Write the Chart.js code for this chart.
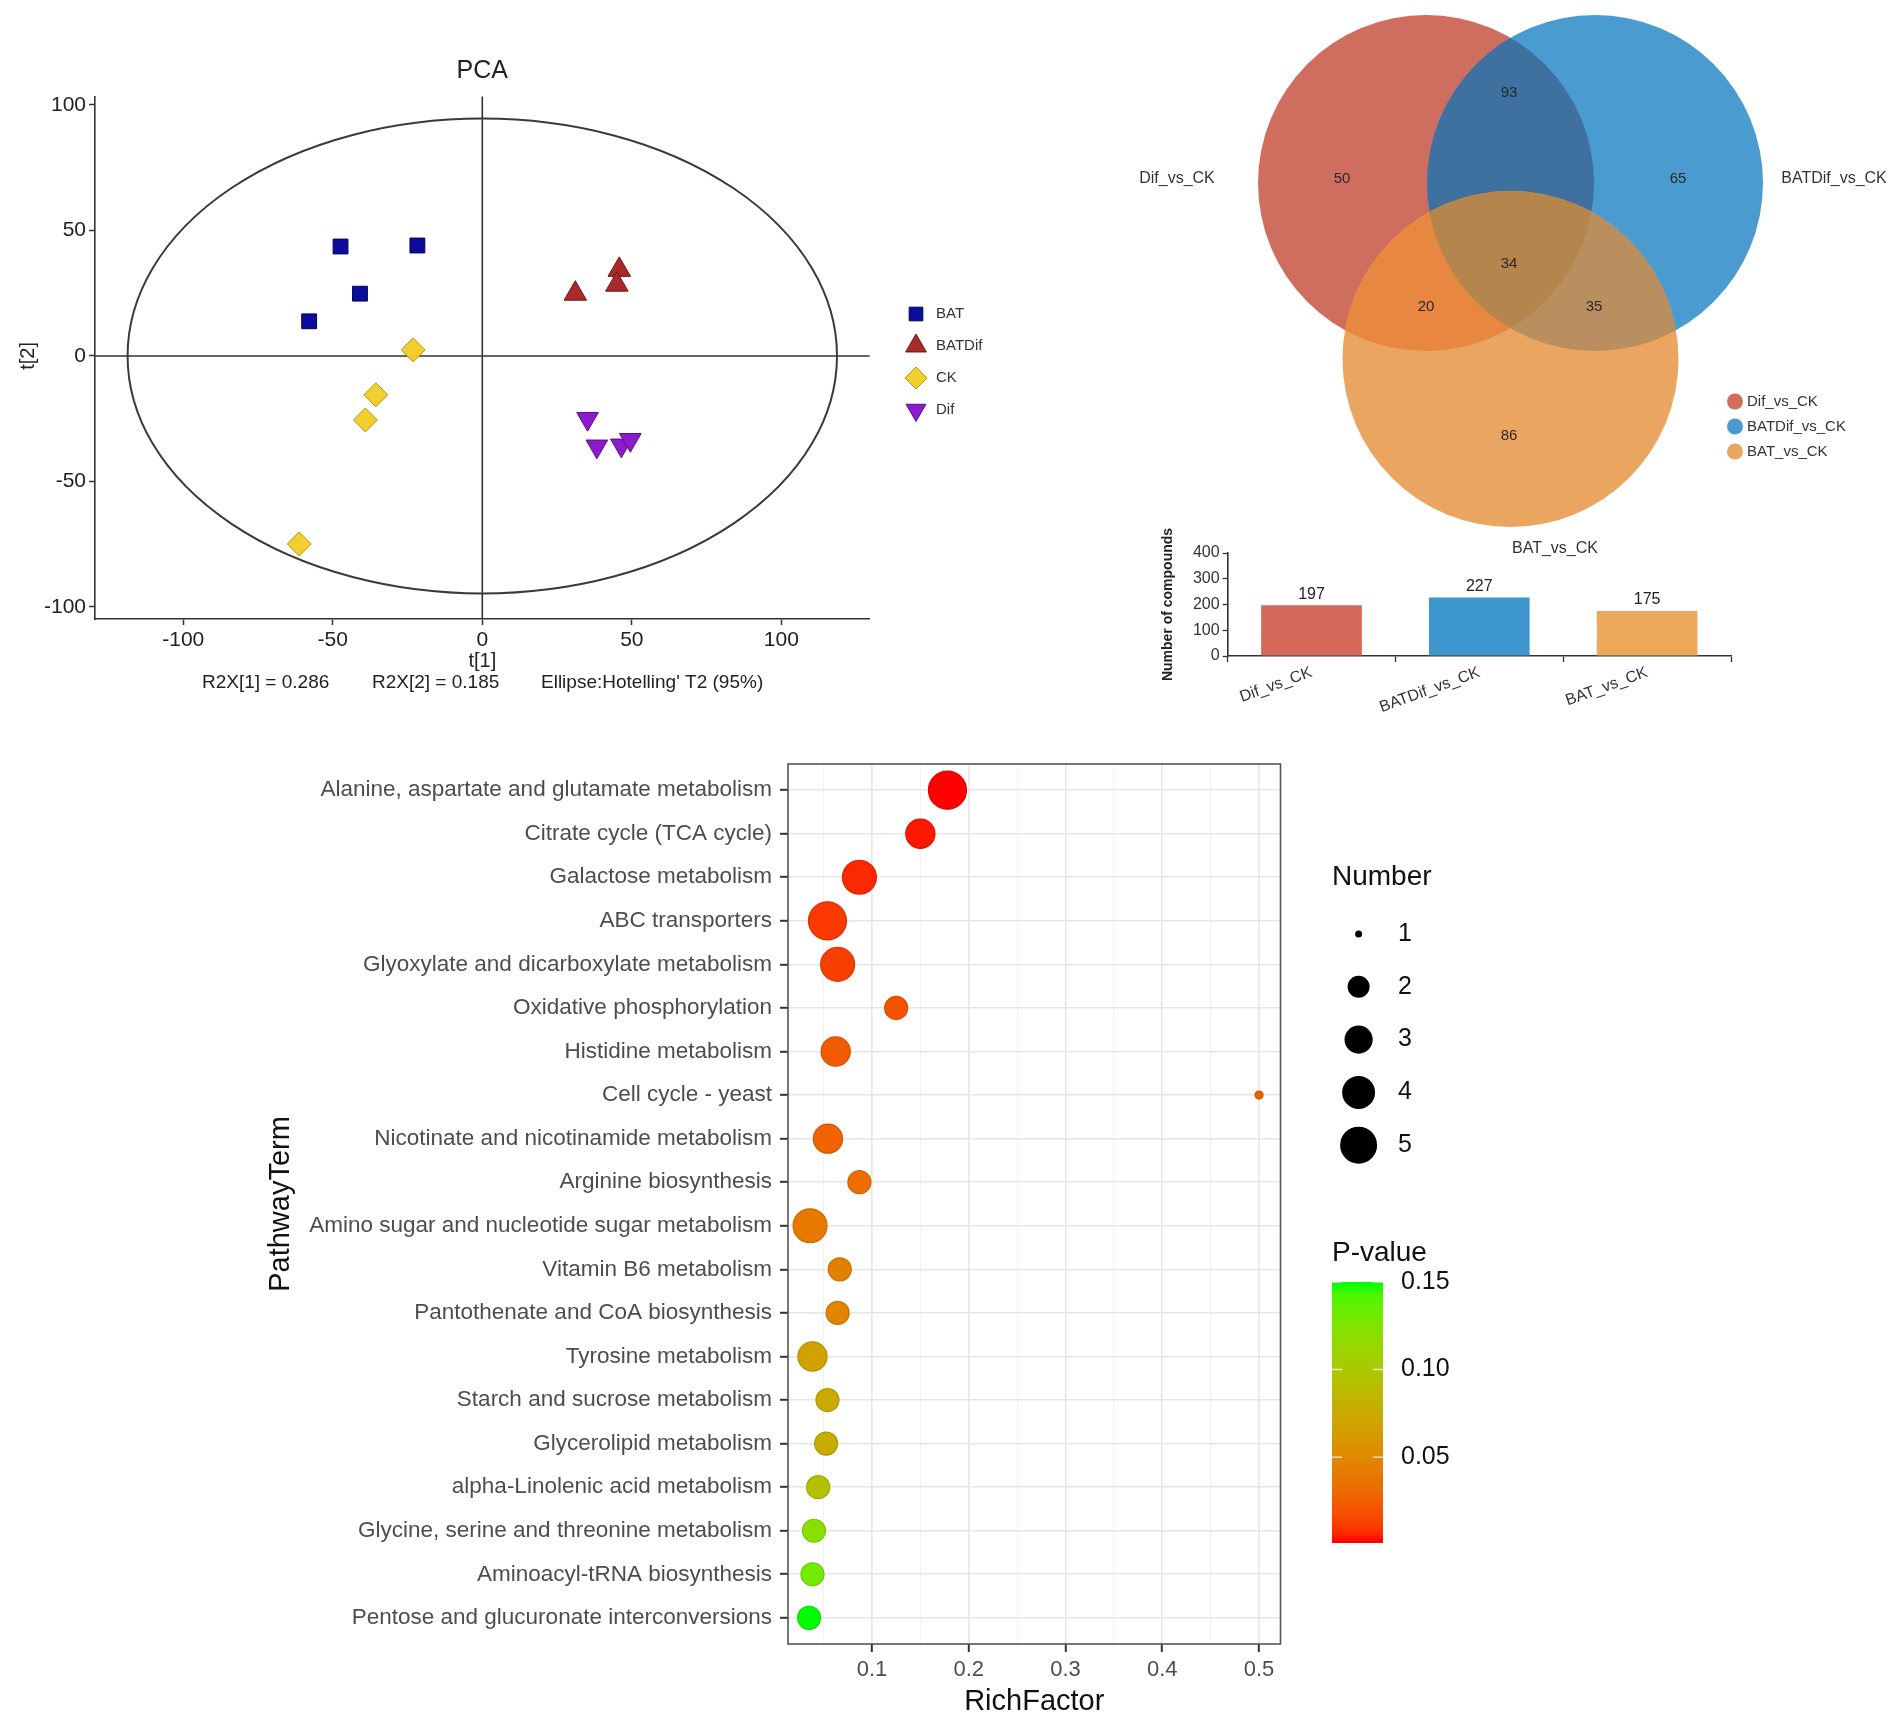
<!DOCTYPE html>
<html>
<head>
<meta charset="utf-8">
<script src="https://cdn.jsdelivr.net/npm/chart.js@4.4.1/dist/chart.umd.min.js"></script>
<style>
  html, body { margin: 0; padding: 0; background: #fff; }
  body { width: 1902px; height: 1733px; position: relative; overflow: hidden; }
  canvas { position: absolute; }
</style>
</head>
<body>
<canvas id="pca" width="1000" height="720" style="left:0px;top:0px"></canvas>
<canvas id="venn" width="802" height="570" style="left:1100px;top:0px"></canvas>
<canvas id="bar" width="802" height="250" style="left:1100px;top:500px"></canvas>
<canvas id="kegg" width="1902" height="993" style="left:0px;top:740px"></canvas>
<script>
// ---- PCA scores ----
const pcaGroups = ['BAT', 'BATDif', 'CK', 'Dif'];
const batT1 = [-47.4, -21.7, -40.9, -57.9];
const batT2 = [43.6, 44.0, 24.8, 13.8];
const batdifT1 = [31.1, 45.8, 45.0];
const batdifT2 = [24.8, 34.3, 28.4];
const ckT1 = [-23.1, -35.6, -39.1, -61.2];
const ckT2 = [2.4, -15.5, -25.5, -74.9];
const difT1 = [35.2, 38.3, 46.5, 49.5];
const difT2 = [-25.0, -36.0, -35.6, -33.4];
const pcaTicks = [-100, -50, 0, 50, 100];
const r2x = [0.286, 0.185];
const ellipseAxes = [118.6, 94.6];   // Hotelling T2 (95%) semi axes

// ---- Venn ----
const vennSets = ['Dif_vs_CK', 'BATDif_vs_CK', 'BAT_vs_CK'];
// order: Dif only, BATDif only, BAT only, Dif&BATDif, Dif&BAT, BATDif&BAT, all three
const vennCounts = [50, 65, 86, 93, 20, 35, 34];

// ---- bar: compounds per comparison ----
const barGroups = ['Dif_vs_CK', 'BATDif_vs_CK', 'BAT_vs_CK'];
const barCounts = [197, 227, 175];
const barTicks = [0, 100, 200, 300, 400];

// ---- KEGG enrichment ----
const pathways = [
  'Alanine, aspartate and glutamate metabolism',
  'Citrate cycle (TCA cycle)',
  'Galactose metabolism',
  'ABC transporters',
  'Glyoxylate and dicarboxylate metabolism',
  'Oxidative phosphorylation',
  'Histidine metabolism',
  'Cell cycle - yeast',
  'Nicotinate and nicotinamide metabolism',
  'Arginine biosynthesis',
  'Amino sugar and nucleotide sugar metabolism',
  'Vitamin B6 metabolism',
  'Pantothenate and CoA biosynthesis',
  'Tyrosine metabolism',
  'Starch and sucrose metabolism',
  'Glycerolipid metabolism',
  'alpha-Linolenic acid metabolism',
  'Glycine, serine and threonine metabolism',
  'Aminoacyl-tRNA biosynthesis',
  'Pentose and glucuronate interconversions'
];
const richFactor = [0.178, 0.150, 0.087, 0.054, 0.0645, 0.125, 0.0625, 0.5, 0.0545, 0.087,
                    0.036, 0.0667, 0.0645, 0.0385, 0.054, 0.0526, 0.0444, 0.040, 0.0385, 0.035];
const hitNumber = [5, 3, 4, 5, 4, 2, 3, 1, 3, 2, 4, 2, 2, 3, 2, 2, 2, 2, 2, 2];
const pValues = [0.001, 0.003, 0.006, 0.010, 0.012, 0.019, 0.023, 0.025, 0.028, 0.032,
                 0.040, 0.044, 0.046, 0.068, 0.074, 0.077, 0.093, 0.120, 0.130, 0.150];
const richTicks = [0.05, 0.1, 0.15, 0.2, 0.25, 0.3, 0.35, 0.4, 0.45, 0.5];
const numberLegend = [1, 2, 3, 4, 5];
const pLegend = [0.05, 0.10, 0.15];

const FONT = '"Liberation Sans", Arial, Helvetica, sans-serif';
Chart.defaults.font.family = FONT;
Chart.defaults.animation = false;
Chart.defaults.events = [];
Chart.defaults.plugins.legend.display = false;
Chart.defaults.plugins.tooltip.enabled = false;

function txt(ctx, s, x, y, o) {
  o = o || {};
  ctx.save();
  ctx.font = (o.weight || 'normal') + ' ' + (o.size || 16) + 'px ' + FONT;
  ctx.fillStyle = o.color || '#222';
  ctx.textAlign = o.align || 'center';
  ctx.textBaseline = o.base || 'middle';
  ctx.translate(x, y);
  if (o.rot) ctx.rotate(o.rot);
  ctx.fillText(s, 0, 0);
  ctx.restore();
}

// ================= PCA =================
const pcaStyle = [
  { fill: '#0c0c9c', edge: '#05055e', shape: 'rect', rot: 0, r: 10.5 },
  { fill: '#a82a2a', edge: '#6e1515', shape: 'triangle', rot: 0, r: 13 },
  { fill: '#f2cf2e', edge: '#b89410', shape: 'rectRot', rot: 0, r: 12 },
  { fill: '#8a1ccc', edge: '#5a0d8a', shape: 'triangle', rot: 180, r: 12.5 }
];
const pcaX = [batT1, batdifT1, ckT1, difT1];
const pcaY = [batT2, batdifT2, ckT2, difT2];

function drawMarker(ctx, st, x, y) {
  ctx.save();
  ctx.fillStyle = st.fill; ctx.strokeStyle = st.edge; ctx.lineWidth = 1;
  Chart.helpers.drawPoint(ctx, { pointStyle: st.shape, rotation: st.rot, radius: st.r, borderWidth: 1 }, x, y);
  ctx.restore();
}

const pcaDecor = {
  id: 'pcaDecor',
  beforeDatasetsDraw(c) {
    const { ctx, chartArea: a, scales: { x, y } } = c;
    const x0 = x.getPixelForValue(0), y0 = y.getPixelForValue(0);
    ctx.save();
    ctx.strokeStyle = '#333'; ctx.lineWidth = 1.6;
    ctx.beginPath();
    ctx.moveTo(a.left, y0); ctx.lineTo(a.right, y0);
    ctx.moveTo(x0, a.top); ctx.lineTo(x0, a.bottom);
    ctx.stroke();
    ctx.strokeStyle = '#3a3a3a'; ctx.lineWidth = 2;
    ctx.beginPath();
    ctx.ellipse(x0, y0, x.getPixelForValue(ellipseAxes[0]) - x0, y0 - y.getPixelForValue(ellipseAxes[1]), 0, 0, Math.PI * 2);
    ctx.stroke();
    ctx.restore();
  },
  afterDraw(c) {
    const { ctx } = c;
    const cx = c.scales.x.getPixelForValue(0);
    txt(ctx, 'PCA', cx, 71, { size: 25, color: '#222' });
    txt(ctx, 't[1]', cx, 661, { size: 20, color: '#222' });
    txt(ctx, 't[2]', 28, c.scales.y.getPixelForValue(0), { size: 20, color: '#222', rot: -Math.PI / 2 });
    txt(ctx, 'R2X[1] = ' + r2x[0].toFixed(3), 202, 683, { size: 19, align: 'left' });
    txt(ctx, 'R2X[2] = ' + r2x[1].toFixed(3), 372, 683, { size: 19, align: 'left' });
    txt(ctx, "Ellipse:Hotelling' T2 (95%)", 541, 683, { size: 19, align: 'left' });
    pcaGroups.forEach((g, i) => {
      const ly = 314 + i * 32;
      drawMarker(ctx, Object.assign({}, pcaStyle[i], { r: pcaStyle[i].r * 0.92 }), 916, ly);
      txt(ctx, g, 936, ly, { size: 15, align: 'left', color: '#333' });
    });
  }
};

new Chart(document.getElementById('pca'), {
  type: 'scatter',
  data: {
    datasets: pcaGroups.map((g, i) => ({
      label: g,
      data: pcaX[i].map((v, k) => ({ x: v, y: pcaY[i][k] })),
      pointStyle: pcaStyle[i].shape,
      pointRotation: pcaStyle[i].rot,
      pointRadius: pcaStyle[i].r,
      backgroundColor: pcaStyle[i].fill,
      borderColor: pcaStyle[i].edge,
      borderWidth: 1
    }))
  },
  options: {
    responsive: false,
    layout: { padding: { left: 0, right: 130.4, top: 96.4, bottom: 61 } },
    scales: {
      x: {
        min: -129.5, max: 129.5,
        afterBuildTicks: s => { s.ticks = pcaTicks.map(v => ({ value: v })); },
        afterFit: s => { s.height = 40; },
        grid: { drawOnChartArea: false, tickLength: 6, tickColor: '#333', tickWidth: 1.5 },
        border: { color: '#333', width: 1.6 },
        ticks: { color: '#222', font: { size: 21 }, padding: 3, maxRotation: 0 }
      },
      y: {
        min: -104.8, max: 103.4,
        afterBuildTicks: s => { s.ticks = pcaTicks.map(v => ({ value: v })); },
        afterFit: s => { s.width = 95; },
        grid: { drawOnChartArea: false, tickLength: 6, tickColor: '#333', tickWidth: 1.5 },
        border: { color: '#333', width: 1.6 },
        ticks: { color: '#222', font: { size: 21 }, padding: 3 }
      }
    }
  },
  plugins: [pcaDecor]
});

// ================= Venn =================
const vennFill = ['#cf6e5f', '#4a9bd0', '#eaa660'];
const vennMix = { rb: '#3e70a0', ro: '#e88740', bo: '#b98f60', rbo: '#b5854e' };

const vennPlugin = {
  id: 'vennPlugin',
  afterDraw(c) {
    const { ctx, scales: { x, y } } = c;
    const P = (vx, vy) => [x.getPixelForValue(vx), y.getPixelForValue(vy)];
    const R = x.getPixelForValue(168) - x.getPixelForValue(0);
    const circ = [P(326, 183), P(495, 183), P(410.5, 359)];
    const path = i => { ctx.beginPath(); ctx.arc(circ[i][0], circ[i][1], R, 0, Math.PI * 2); };
    ctx.save();
    [0, 1, 2].forEach(i => { path(i); ctx.fillStyle = vennFill[i]; ctx.fill(); });
    const clipFill = (clips, i, col) => {
      ctx.save();
      clips.forEach(k => { path(k); ctx.clip(); });
      path(i); ctx.fillStyle = col; ctx.fill();
      ctx.restore();
    };
    clipFill([0], 1, vennMix.rb);
    clipFill([0], 2, vennMix.ro);
    clipFill([1], 2, vennMix.bo);
    clipFill([0, 1], 2, vennMix.rbo);
    ctx.restore();

    const spots = [P(242, 179), P(578, 179), P(409, 436), P(409, 93), P(326, 307), P(494, 307), P(409, 264)];
    vennCounts.forEach((n, i) => txt(ctx, String(n), spots[i][0], spots[i][1], { size: 15, color: '#2a2a2a' }));
    const labs = [P(77, 179), P(734, 179), P(455, 549)];
    vennSets.forEach((s, i) => txt(ctx, s, labs[i][0], labs[i][1], { size: 16, color: '#333' }));
    vennSets.forEach((s, i) => {
      const [lx, ly] = P(635, 401.5 + i * 25);
      ctx.beginPath(); ctx.arc(lx, ly, 8, 0, Math.PI * 2); ctx.fillStyle = vennFill[i]; ctx.fill();
      txt(ctx, s, lx + 12, ly, { size: 15, align: 'left', color: '#333' });
    });
  }
};

new Chart(document.getElementById('venn'), {
  type: 'scatter',
  data: { datasets: [] },
  options: {
    responsive: false,
    layout: { padding: 0 },
    scales: {
      x: { display: false, min: 0, max: 802 },
      y: { display: false, min: 0, max: 570, reverse: true }
    }
  },
  plugins: [vennPlugin]
});

// ================= bar =================
const barLabelsPlugin = {
  id: 'barLabels',
  afterDatasetsDraw(c) {
    const { ctx } = c;
    c.getDatasetMeta(0).data.forEach((bar, i) => {
      txt(ctx, String(barCounts[i]), bar.x, bar.y - 3, { size: 16, base: 'bottom', color: '#222' });
    });
    txt(ctx, 'Number of compounds', 68, (c.chartArea.top + c.chartArea.bottom) / 2,
        { size: 14, weight: 'bold', color: '#222', rot: -Math.PI / 2 });
  }
};

new Chart(document.getElementById('bar'), {
  type: 'bar',
  data: {
    labels: barGroups,
    datasets: [{ data: barCounts, backgroundColor: ['#d6685a', '#3d96cd', '#eda85c'],
                 barPercentage: 0.6, categoryPercentage: 1 }]
  },
  options: {
    responsive: false,
    layout: { padding: { left: 77.6, right: 171, top: 53, bottom: 34 } },
    scales: {
      x: {
        afterFit: s => { s.height = 60; },
        grid: { drawOnChartArea: false, tickLength: 6, tickColor: '#333', tickWidth: 1.3 },
        border: { color: '#333', width: 1.6 },
        ticks: { color: '#333', font: { size: 16 }, minRotation: 20, maxRotation: 20, autoSkip: false, padding: 1 }
      },
      y: {
        min: 0, max: 400,
        afterBuildTicks: s => { s.ticks = barTicks.map(v => ({ value: v })); },
        afterFit: s => { s.width = 50; },
        grid: { drawOnChartArea: false, tickLength: 5, tickColor: '#333', tickWidth: 1.3 },
        border: { color: '#333', width: 1.6 },
        ticks: { color: '#333', font: { size: 16 }, padding: 3 }
      }
    }
  },
  plugins: [barLabelsPlugin]
});

// ================= KEGG bubble =================
function toLin(c) { c /= 255; return c <= 0.04045 ? c / 12.92 : Math.pow((c + 0.055) / 1.055, 2.4); }
function toSrgb(c) { c = c <= 0.0031308 ? 12.92 * c : 1.055 * Math.pow(c, 1 / 2.4) - 0.055; return Math.round(Math.max(0, Math.min(1, c)) * 255); }
function rgb2lab(rgb) {
  const [r, g, b] = rgb.map(toLin);
  const X = (0.4124 * r + 0.3576 * g + 0.1805 * b) / 0.95047;
  const Y = 0.2126 * r + 0.7152 * g + 0.0722 * b;
  const Z = (0.0193 * r + 0.1192 * g + 0.9505 * b) / 1.08883;
  const f = t => t > 0.008856 ? Math.cbrt(t) : 7.787 * t + 16 / 116;
  return [116 * f(Y) - 16, 500 * (f(X) - f(Y)), 200 * (f(Y) - f(Z))];
}
function lab2rgb(lab) {
  const fy = (lab[0] + 16) / 116, fx = fy + lab[1] / 500, fz = fy - lab[2] / 200;
  const inv = t => t > 0.206893 ? t * t * t : (t - 16 / 116) / 7.787;
  const X = inv(fx) * 0.95047, Y = inv(fy), Z = inv(fz) * 1.08883;
  const r = 3.2406 * X - 1.5372 * Y - 0.4986 * Z;
  const g = -0.9689 * X + 1.8758 * Y + 0.0415 * Z;
  const b = 0.0557 * X - 0.2040 * Y + 1.0570 * Z;
  return [toSrgb(r), toSrgb(g), toSrgb(b)];
}
const labLow = rgb2lab([255, 0, 0]), labHigh = rgb2lab([0, 255, 0]);
const pMin = Math.min(...pValues), pMax = Math.max(...pValues);
function pRgb(p) {
  const t = Math.max(0, Math.min(1, (p - pMin) / (pMax - pMin)));
  return lab2rgb(labLow.map((v, i) => v + (labHigh[i] - v) * t));
}
const css = (c, k) => `rgb(${Math.round(c[0] * (k || 1))},${Math.round(c[1] * (k || 1))},${Math.round(c[2] * (k || 1))})`;
const nMin = Math.min(...hitNumber), nMax = Math.max(...hitNumber);
function bubbleR(n) { return 3.0 * (1 + 5 * Math.sqrt((n - nMin) / (nMax - nMin))) + 1; }

const keggDecor = {
  id: 'keggDecor',
  afterDatasetsDraw(c) {
    const { ctx, chartArea: a } = c;
    ctx.save();
    ctx.strokeStyle = '#555'; ctx.lineWidth = 1.6;
    ctx.strokeRect(a.left, a.top, a.right - a.left, a.bottom - a.top);
    ctx.restore();
  },
  afterDraw(c) {
    const { ctx, chartArea: a } = c;
    txt(ctx, 'PathwayTerm', 281, (a.top + a.bottom) / 2, { size: 29, color: '#111', rot: -Math.PI / 2 });
    txt(ctx, 'RichFactor', (a.left + a.right) / 2, 962, { size: 29, color: '#111' });
    // size legend
    txt(ctx, 'Number', 1332, 137, { size: 28, align: 'left', color: '#111' });
    numberLegend.forEach((n, i) => {
      const ly = 194 + i * 52.8;
      ctx.beginPath(); ctx.arc(1358.6, ly, bubbleR(n) - 0.5, 0, Math.PI * 2);
      ctx.fillStyle = '#000'; ctx.fill();
      txt(ctx, String(n), 1398, ly, { size: 25, align: 'left', color: '#111' });
    });
    // colour bar
    txt(ctx, 'P-value', 1332, 513, { size: 28, align: 'left', color: '#111' });
    const top = 542, bot = 803, x0 = 1332, w = 51;
    const grad = ctx.createLinearGradient(0, bot, 0, top);
    for (let k = 0; k <= 20; k++) {
      grad.addColorStop(k / 20, css(pRgb(pMin + (pMax - pMin) * k / 20)));
    }
    ctx.fillStyle = grad;
    ctx.fillRect(x0, top, w, bot - top);
    const yOf = p => bot - (p - pMin) / (pMax - pMin) * (bot - top);
    pLegend.forEach(p => {
      const ly = yOf(p);
      ctx.save(); ctx.strokeStyle = 'rgba(255,255,255,0.7)'; ctx.lineWidth = 1.5;
      ctx.beginPath(); ctx.moveTo(x0, ly); ctx.lineTo(x0 + 10, ly); ctx.moveTo(x0 + w - 10, ly); ctx.lineTo(x0 + w, ly); ctx.stroke();
      ctx.restore();
      txt(ctx, p.toFixed(2), 1401, ly, { size: 25, align: 'left', color: '#111' });
    });
  }
};

const isMajor = v => Math.abs(v * 10 - Math.round(v * 10)) < 1e-6;

new Chart(document.getElementById('kegg'), {
  type: 'bubble',
  data: {
    datasets: [{
      data: pathways.map((p, i) => ({ x: richFactor[i], y: i, r: bubbleR(hitNumber[i]) })),
      backgroundColor: pValues.map(p => css(pRgb(p))),
      borderColor: pValues.map(p => css(pRgb(p), 0.88)),
      borderWidth: 1.2
    }]
  },
  options: {
    responsive: false,
    clip: false,
    layout: { padding: { left: 0, right: 621.5, top: 24, bottom: 39 } },
    scales: {
      x: {
        type: 'linear', min: 0.0132, max: 0.5222,
        afterBuildTicks: s => { s.ticks = richTicks.map(v => ({ value: v })); },
        afterFit: s => { s.height = 50; },
        grid: {
          color: ctx => isMajor(ctx.tick.value) ? '#e6e6e6' : '#f1f1f1',
          lineWidth: ctx => isMajor(ctx.tick.value) ? 1.6 : 0.9,
          tickColor: ctx => isMajor(ctx.tick.value) ? '#333' : 'rgba(0,0,0,0)',
          tickLength: 8, tickWidth: 2
        },
        border: { display: false },
        ticks: { color: '#4d4d4d', font: { size: 22 }, padding: 5, maxRotation: 0, autoSkip: false,
                 callback: v => isMajor(v) ? v.toFixed(1) : '' }
      },
      y: {
        type: 'linear', min: -0.6, max: 19.6, reverse: true,
        afterBuildTicks: s => { s.ticks = pathways.map((p, i) => ({ value: i })); },
        afterFit: s => { s.width = 788; },
        grid: { color: '#e6e6e6', lineWidth: 1.6, tickColor: '#333', tickLength: 8, tickWidth: 2 },
        border: { display: false },
        ticks: { color: '#4d4d4d', font: { size: 22.5 }, padding: 8, autoSkip: false,
                 callback: v => pathways[v] }
      }
    }
  },
  plugins: [keggDecor]
});
</script>
</body>
</html>
